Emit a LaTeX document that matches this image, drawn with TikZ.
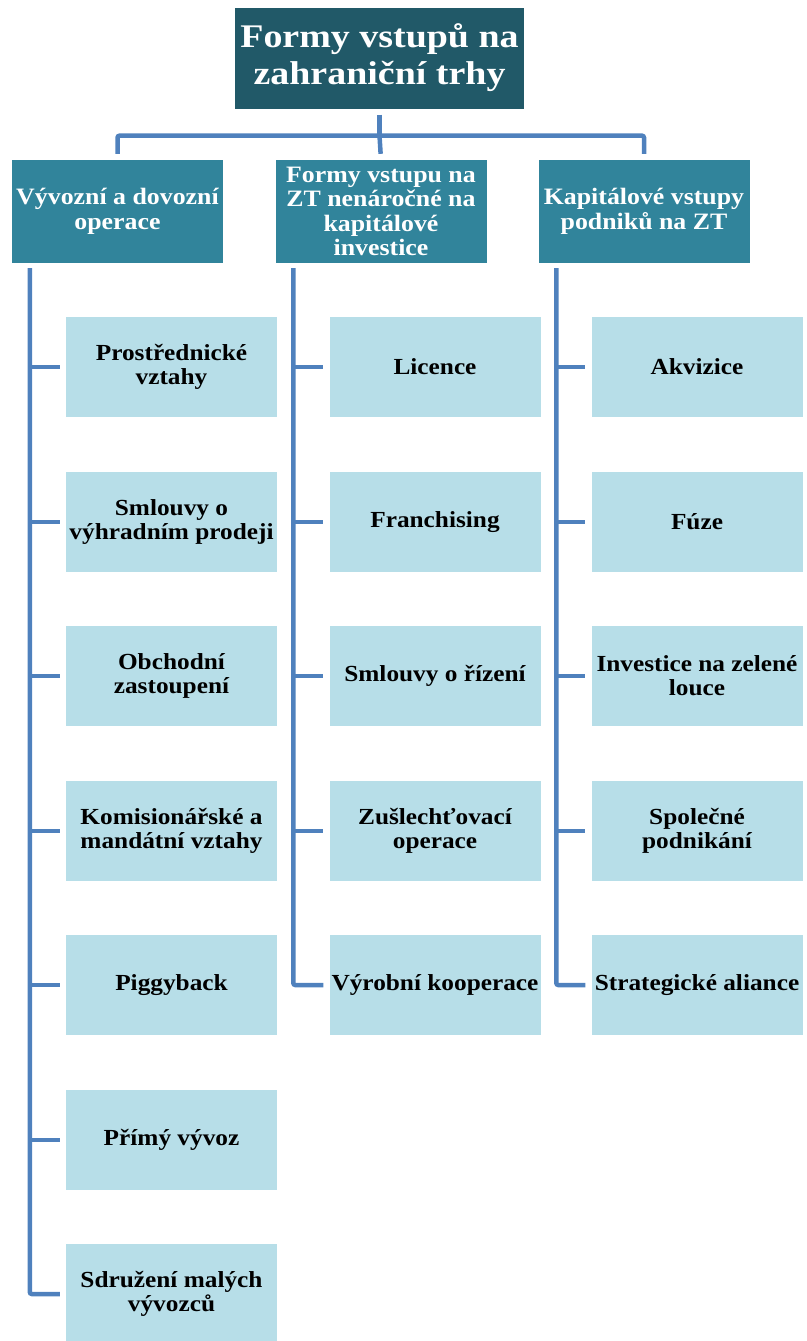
\documentclass[tikz,border=0pt]{standalone}
\usepackage{fontspec}
\setmainfont{Liberation Serif}
\newfontfamily\boxfont[FakeStretch=1.1]{Liberation Serif}
\newfontfamily\titlefont[FakeStretch=1.15]{Liberation Serif}
\usetikzlibrary{positioning,calc}
\definecolor{titlefill}{HTML}{215968}
\definecolor{headfill}{HTML}{31849B}
\definecolor{leaffill}{HTML}{B7DEE8}
\definecolor{linkcol}{HTML}{4F81BD}
\tikzset{
	titlebox/.style = {fill=titlefill, text=white, align=center, inner sep=0pt,
		minimum width=289pt, minimum height=101pt,
		font=\titlefont\bfseries\fontsize{33}{37}\selectfont},
	headbox/.style = {fill=headfill, text=white, align=center, inner sep=0pt,
		minimum width=211pt, minimum height=103pt,
		font=\boxfont\bfseries\fontsize{23.5}{24.5}\selectfont},
	leafbox/.style = {fill=leaffill, text=black, align=center, inner sep=0pt,
		minimum width=211pt, minimum height=100pt,
		font=\boxfont\bfseries\fontsize{23}{24}\selectfont},
	link/.style = {draw=linkcol, line width=4.5pt, rounded corners=2pt}
}

\begin{document}
\begin{tikzpicture}[x=1pt,y=-1pt]
		\useasboundingbox (0,0) rectangle (806,1341);
		% top of the tree
		\node[titlebox] (top) at (379.5,58) {Formy vstupů na\\zahraniční trhy};
		\node[headbox] (h1) at (117.5,211.5) {Vývozní a dovozní\\operace};
		\node[headbox] (h2) at (381,211.5) {Formy vstupu na\\ZT nenáročné na\\kapitálové\\investice};
		\node[headbox] (h3) at (644,211.5) {Kapitálové vstupy\\podniků na ZT};
		% first column
		\node[leafbox] (a1) at (171.5,367) {Prostřednické\\vztahy};
		\node[leafbox] (a2) at (171.5,522) {Smlouvy o\\výhradním prodeji};
		\node[leafbox] (a3) at (171.5,676) {Obchodní\\zastoupení};
		\node[leafbox] (a4) at (171.5,831) {Komisionářské a\\mandátní vztahy};
		\node[leafbox] (a5) at (171.5,985) {Piggyback};
		\node[leafbox] (a6) at (171.5,1140) {Přímý vývoz};
		\node[leafbox] (a7) at (171.5,1294) {Sdružení malých\\vývozců};
		% second column
		\node[leafbox] (b1) at (435,367) {Licence};
		\node[leafbox] (b2) at (435,522) {Franchising};
		\node[leafbox] (b3) at (435,676) {Smlouvy o řízení};
		\node[leafbox] (b4) at (435,831) {Zušlechťovací\\operace};
		\node[leafbox] (b5) at (435,985) {Výrobní kooperace};
		% third column
		\node[leafbox] (c1) at (697,367) {Akvizice};
		\node[leafbox] (c2) at (697,522) {Fúze};
		\node[leafbox] (c3) at (697,676) {Investice na zelené\\louce};
		\node[leafbox] (c4) at (697,831) {Společné\\podnikání};
		\node[leafbox] (c5) at (697,985) {Strategické aliance};

		\coordinate (fork) at ($(top.south)+(0,27)$);
		\draw[link, shorten <=6pt] (top.south) -- (fork);
		\draw[link, shorten >=6pt] (fork) -| (h1.north);
		\draw[link, shorten >=6pt] (fork) -- (h2.north);
		\draw[link, shorten >=6pt] (fork) -| (h3.north);

		\draw[link, shorten <=5pt, shorten >=6pt] ([xshift=18pt]h1.south west) |- (a7.west);
		\foreach \n in {a1,a2,a3,a4,a5,a6}
			\draw[link, shorten >=6pt] ([xshift=18pt]h1.south west |- \n.west) -- (\n.west);
		\draw[link, shorten <=5pt, shorten >=6pt] ([xshift=18pt]h2.south west) |- (b5.west);
		\foreach \n in {b1,b2,b3,b4}
			\draw[link, shorten >=6pt] ([xshift=18pt]h2.south west |- \n.west) -- (\n.west);
		\draw[link, shorten <=5pt, shorten >=6pt] ([xshift=18pt]h3.south west) |- (c5.west);
		\foreach \n in {c1,c2,c3,c4}
			\draw[link, shorten >=6pt] ([xshift=18pt]h3.south west |- \n.west) -- (\n.west);
	\end{tikzpicture}
\end{document}
